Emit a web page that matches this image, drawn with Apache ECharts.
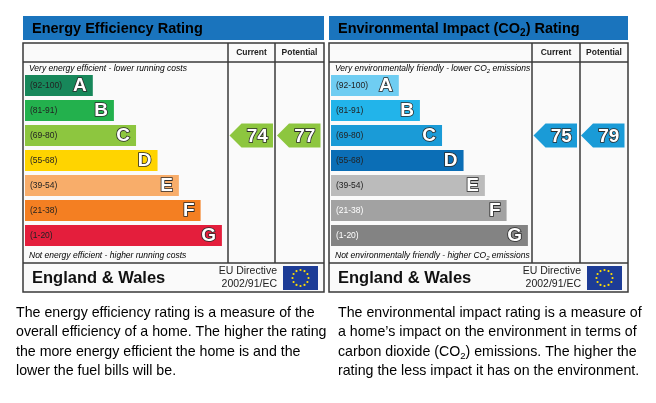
<!DOCTYPE html>
<html><head><meta charset="utf-8">
<script src="https://cdn.jsdelivr.net/npm/echarts@6/dist/echarts.min.js"></script>
<style>html,body{margin:0;padding:0;background:#fff}#c{width:656px;height:403px}</style>
</head><body><div id="c"></div>
<script>
// ---- data ----
const bands = ['A', 'B', 'C', 'D', 'E', 'F', 'G'];
const ranges = ['(92-100)', '(81-91)', '(69-80)', '(55-68)', '(39-54)', '(21-38)', '(1-20)'];
const bandMins = [92, 81, 69, 55, 39, 21, 1];
// bar length as % of the band scale width
const barLengths = [33.4, 43.8, 54.7, 65.3, 75.8, 86.5, 97];
const columns = ['Current', 'Potential'];
const eeRatings = [74, 77];
const eiRatings = [75, 79];
const eeColors = ['#17875a', '#23b14d', '#8dc63f', '#ffd400', '#f8ad6a', '#f47f22', '#e41e3c'];
const eiColors = ['#6fcdf2', '#22b4ea', '#1a9bd7', '#0b6eb6', '#bbbbbb', '#a2a2a2', '#838383'];
const eiRangeColors = ['#222', '#222', '#222', '#222', '#222', '#fff', '#fff'];
const eeRangeColors = ['#222', '#222', '#222', '#222', '#222', '#222', '#222'];
const eeTitle = 'Energy Efficiency Rating';
const eeTop = 'Very energy efficient - lower running costs';
const eeBottom = 'Not energy efficient - higher running costs';
const eiTitle = '{t|Environmental Impact (CO}{ts|2}{t|) Rating}';
const eiTop = '{c|Very environmentally friendly - lower CO}{cs|2}{c| emissions}';
const eiBottom = '{c|Not environmentally friendly - higher CO}{cs|2}{c| emissions}';
const footer = 'England & Wales';
const directive = ['EU Directive', '2002/91/EC'];
const eeText = [
  'The energy efficiency rating is a measure of the',
  'overall efficiency of a home. The higher the rating',
  'the more energy efficient the home is and the',
  'lower the fuel bills will be.'
];
const eiText = [
  '{d|The environmental impact rating is a measure of}',
  '{d|a home\u2019s impact on the environment in terms of}',
  '{d|carbon dioxide (CO}{ds|2}{d|) emissions. The higher the}',
  '{d|rating the less impact it has on the environment.}'
];

function bandOf(v) { return bandMins.findIndex(m => v >= m); }

// ---- layout ----
const panels = [
  { x0: 23, x1: 324, c1: 228, c2: 275, bar: 25, colors: eeColors, rc: eeRangeColors, ratings: eeRatings,
    title: eeTitle, top: eeTop, bottom: eeBottom, dirRight: 277, flag: 283, text: eeText, tx: 16 },
  { x0: 329, x1: 628, c1: 532, c2: 580, bar: 331, colors: eiColors, rc: eiRangeColors, ratings: eiRatings,
    title: eiTitle, top: eiTop, bottom: eiBottom, dirRight: 581, flag: 587, text: eiText, tx: 338 }
];
const gTop = 73, gH = 175;
const border = '#3a3a3a';
const FF = '"Liberation Sans", Arial';
const rich = {
  t: { fontSize: 14.5, fontWeight: 'bold', color: '#fff', fontFamily: FF, lineHeight: 20 },
  ts: { fontSize: 10, fontWeight: 'bold', color: '#fff', fontFamily: FF, lineHeight: 20, verticalAlign: 'bottom', padding: [6, 0, 0, 0] },
  c: { fontSize: 8.5, fontStyle: 'italic', color: '#555', fontFamily: FF, lineHeight: 11 },
  cs: { fontSize: 6, fontStyle: 'italic', color: '#555', fontFamily: FF, lineHeight: 11, verticalAlign: 'bottom', padding: [3, 0, 0, 0] },
  d: { fontSize: 14.2, color: '#111', fontFamily: FF, lineHeight: 19.5 },
  ds: { fontSize: 9.5, color: '#111', fontFamily: FF, lineHeight: 19.5, verticalAlign: 'bottom', padding: [7, 0, 0, 0] }
};

const grids = [], xAxes = [], yAxes = [], series = [], graphic = [];
panels.forEach((p, i) => {
  const gi = grids.length;
  grids.push({ left: p.bar, top: gTop, width: 203, height: gH });
  grids.push({ left: p.c1, top: gTop, width: p.x1 - 1 - p.c1, height: gH });
  xAxes.push({ gridIndex: gi, type: 'value', min: 0, max: 100, show: false });
  xAxes.push({ gridIndex: gi + 1, type: 'category', data: columns, show: false });
  yAxes.push({ gridIndex: gi, type: 'category', data: bands, inverse: true, show: false });
  yAxes.push({ gridIndex: gi + 1, type: 'category', data: bands, inverse: true, show: false });
  series.push({
    type: 'bar', xAxisIndex: gi, yAxisIndex: gi, barWidth: 21, z: 3,
    data: barLengths.map((v, k) => ({ value: v, itemStyle: { color: p.colors[k] },
      label: { color: p.rc[k] } })),
    label: { show: true, position: 'insideLeft', distance: 5, formatter: params => ranges[params.dataIndex],
      fontSize: 8.5, fontFamily: FF },
    silent: true
  });
  series.push({
    type: 'bar', xAxisIndex: gi, yAxisIndex: gi, barWidth: 21, barGap: '-100%', z: 4,
    data: barLengths, itemStyle: { color: 'rgba(0,0,0,0)' },
    label: { show: true, position: 'insideRight', distance: 6, formatter: params => bands[params.dataIndex],
      fontSize: 19, fontWeight: 'bold', fontFamily: FF, color: '#fff',
      textBorderColor: '#2a2a2a', textBorderWidth: 1.6 },
    silent: true
  });
  series.push({
    type: 'custom', xAxisIndex: gi + 1, yAxisIndex: gi + 1, z: 5, silent: true,
    data: p.ratings.map((r, k) => [k, bandOf(r), r]),
    renderItem: (params, api) => {
      const c = api.coord([api.value(0), api.value(1)]);
      const cw = api.size([1, 0])[0];
      const left = c[0] - cw / 2 + 1.5, right = c[0] + cw / 2 - 2.5;
      const top = c[1] - 12, bot = c[1] + 12, tip = 12;
      const col = p.colors[api.value(1)];
      return { type: 'group', children: [
        { type: 'polygon', shape: { points: [[left, c[1]], [left + tip, top], [right, top], [right, bot], [left + tip, bot]] },
          style: { fill: col } },
        { type: 'text', style: { text: String(api.value(2)), x: (left + tip + right) / 2, y: c[1] + 1,
          align: 'center', verticalAlign: 'middle', fill: '#fff', stroke: '#2a2a2a', lineWidth: 1.6,
          font: 'bold 19px ' + FF } }
      ] };
    }
  });

  // table graphics
  graphic.push({ type: 'rect', z: -1, shape: { x: p.x0, y: 43, width: p.x1 - p.x0, height: 249 },
    style: { fill: '#fafafa', stroke: border, lineWidth: 1.5 } });
  graphic.push({ type: 'rect', shape: { x: p.x0, y: 16, width: p.x1 - p.x0, height: 24 },
    style: { fill: '#1a74bd' } });
  graphic.push({ type: 'text', x: p.x0 + 9, y: 28.5, style: {
    text: i === 0 ? '{t|' + p.title + '}' : p.title, rich, verticalAlign: 'middle' } });
  graphic.push({ type: 'line', shape: { x1: p.x0, y1: 62, x2: p.x1, y2: 62 }, style: { stroke: border, lineWidth: 1.5 } });
  graphic.push({ type: 'line', shape: { x1: p.x0, y1: 263, x2: p.x1, y2: 263 }, style: { stroke: border, lineWidth: 1.5 } });
  graphic.push({ type: 'line', shape: { x1: p.c1, y1: 43, x2: p.c1, y2: 263 }, style: { stroke: border, lineWidth: 1.5 } });
  graphic.push({ type: 'line', shape: { x1: p.c2, y1: 43, x2: p.c2, y2: 263 }, style: { stroke: border, lineWidth: 1.5 } });
  graphic.push({ type: 'text', x: (p.c1 + p.c2) / 2, y: 53, style: { text: columns[0], align: 'center', verticalAlign: 'middle',
    font: 'bold 8.5px ' + FF, fill: '#222' } });
  graphic.push({ type: 'text', x: (p.c2 + p.x1) / 2, y: 53, style: { text: columns[1], align: 'center', verticalAlign: 'middle',
    font: 'bold 8.5px ' + FF, fill: '#222' } });
  graphic.push({ type: 'text', x: p.x0 + 6, y: 69, style: { text: i === 0 ? '{c|' + p.top + '}' : p.top, rich, verticalAlign: 'middle' } });
  graphic.push({ type: 'text', x: p.x0 + 6, y: 256, style: { text: i === 0 ? '{c|' + p.bottom + '}' : p.bottom, rich, verticalAlign: 'middle' } });
  graphic.push({ type: 'text', x: p.x0 + 9, y: 278, style: { text: footer, verticalAlign: 'middle',
    font: 'bold 16.5px ' + FF, fill: '#111' } });
  graphic.push({ type: 'text', x: p.dirRight, y: 271, style: { text: directive[0], align: 'right', verticalAlign: 'middle',
    font: '10.5px ' + FF, fill: '#222' } });
  graphic.push({ type: 'text', x: p.dirRight, y: 284, style: { text: directive[1], align: 'right', verticalAlign: 'middle',
    font: '10.5px ' + FF, fill: '#222' } });
  graphic.push({ type: 'rect', shape: { x: p.flag, y: 266, width: 35, height: 24 }, style: { fill: '#1d3c96' } });
  for (let s = 0; s < 12; s++) {
    const a = s * Math.PI / 6;
    graphic.push({ type: 'circle', shape: { cx: p.flag + 17.5 + 8 * Math.cos(a), cy: 278 + 8 * Math.sin(a), r: 1.1 },
      style: { fill: '#ffde00' } });
  }
  p.text.forEach((line, k) => {
    graphic.push({ type: 'text', x: p.tx, y: 313 + k * 19.5, style: {
      text: i === 0 ? '{d|' + line + '}' : line, rich, verticalAlign: 'middle' } });
  });
});

const chart = echarts.init(document.getElementById('c'));
chart.setOption({
  animation: false,
  backgroundColor: '#fff',
  grid: grids, xAxis: xAxes, yAxis: yAxes, series, graphic
});
</script></body></html>
